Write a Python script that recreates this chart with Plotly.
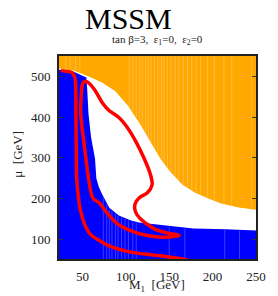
import numpy as np
import plotly.graph_objects as go

# ---- data ----
# orange excluded region: lower boundary (M1, mu)
orange_m1 = [23, 40, 56.6, 73, 88, 102.7, 117.4, 128.5, 139.5, 150.6, 165.3, 180, 195, 210, 230, 250]
orange_mu = [520, 515, 501, 485, 464, 428, 380, 339, 299, 267, 234, 214, 200, 188, 178, 172]

# blue excluded region: upper boundary (M1, mu)
blue_m1 = [23, 40, 51, 54.5, 55.5, 57, 60, 64.5, 66, 69, 73, 81, 92, 106, 115, 135, 152, 178, 215, 250]
blue_mu = [517, 512, 502, 498, 470, 408, 350, 298, 250, 228, 209, 177, 158, 146, 141, 136, 131, 126, 124, 121]

# red contour 1 (outer, open curve)
red1_m1 = [25, 33, 38, 41, 42, 42.5, 43, 43.4, 45.5, 47.8, 54, 60, 69, 80, 92, 106, 130, 150, 165, 172]
red1_mu = [515, 513, 510, 500, 488, 400, 300, 250, 200, 170, 129, 110, 97, 84, 75, 68, 61, 56, 51, 48]

# red contour 2 (inner, closed loop)
red2_m1 = [48, 48.5, 50, 53, 58.6, 65.5, 73.5, 81, 91.7, 102.7, 111.9, 121, 128.5, 130.3, 124.8, 115.5,
           110.5, 111, 115.5, 125, 134, 150, 161.6, 150, 135, 118, 104, 90, 78, 70, 62, 57, 54, 51, 48]
red2_mu = [408, 450, 481, 489, 482, 463, 434, 416, 400, 372, 339, 299, 258, 234, 214, 202,
           186, 168, 153, 136, 124, 114, 109, 105, 106, 112, 122, 138, 165, 188, 201, 250, 300, 350, 408]

# lighter scan stripes seen in the filled regions (M1 positions)
orange_stripes = [31, 36, 42, 47, 104, 108, 112, 116, 119, 123, 126, 129, 133, 137, 141, 144, 148,
                  152, 157, 161, 166, 171, 176, 181, 186, 194, 202, 213, 222, 245]
blue_stripes = [74, 78, 81, 84, 88, 91, 95, 99, 103, 108, 112, 150, 168, 214, 231]

x_ticks = [50, 100, 150, 200, 250]
y_ticks = [100, 200, 300, 400, 500]
x_range = [23, 250]
y_range = [51, 551]

ORANGE = "#FFA800"
ORANGE_LIGHT = "#FFBC40"
BLUE = "#0000FF"
BLUE_LIGHT = "#3C3CFF"
RED = "#FF0000"
SERIF = "Liberation Serif"

fig = go.Figure()

# orange polygon: top edge then lower boundary backwards
fig.add_trace(go.Scatter(
    x=[x_range[0]] + [x_range[1]] + orange_m1[::-1],
    y=[600, 600] + orange_mu[::-1],
    fill="toself", fillcolor=ORANGE, line=dict(width=0),
    mode="lines", hoverinfo="skip", showlegend=False))

# orange stripes
sx, sy = [], []
for m in orange_stripes:
    lo = float(np.interp(m, orange_m1, orange_mu)) + 2
    sx += [m, m, None]
    sy += [lo, 600, None]
fig.add_trace(go.Scatter(x=sx, y=sy, mode="lines", line=dict(color=ORANGE_LIGHT, width=1),
                         hoverinfo="skip", showlegend=False))

# blue polygon
fig.add_trace(go.Scatter(
    x=[blue_m1[0]] + blue_m1 + [blue_m1[-1]],
    y=[0] + blue_mu + [0],
    fill="toself", fillcolor=BLUE, line=dict(width=0), mode="lines",
    hoverinfo="skip", showlegend=False))

# blue stripes
sx, sy = [], []
for m in blue_stripes:
    hi = float(np.interp(m, blue_m1, blue_mu)) - 2
    sx += [m, m, None]
    sy += [0, hi, None]
fig.add_trace(go.Scatter(x=sx, y=sy, mode="lines", line=dict(color=BLUE_LIGHT, width=1),
                         hoverinfo="skip", showlegend=False))

for xs, ys in [(red1_m1, red1_mu), (red2_m1, red2_mu)]:
    fig.add_trace(go.Scatter(x=xs, y=ys, mode="lines",
                             line=dict(color=RED, width=3.5, shape="spline", smoothing=0.8),
                             hoverinfo="skip", showlegend=False))

axis_common = dict(showgrid=False, zeroline=False, showline=True, linecolor="#222", linewidth=2,
                   tickfont=dict(family=SERIF, size=13, color="#222"))

fig.update_xaxes(range=x_range, tickvals=x_ticks, ticks="outside", ticklen=4,
                 tickcolor="rgba(0,0,0,0)", mirror=True, **axis_common)
fig.update_yaxes(range=y_range, tickvals=y_ticks, ticks="inside", ticklen=4, tickcolor="#333",
                 mirror="ticks", ticklabelstandoff=4, **axis_common)

W, H = 278, 296
l, r, t, b = 59, 12, 56, 34
pw, ph = W - l - r, H - t - b


def ann(text, px, py, size, angle=0, color="#222"):
    return dict(text=text, xref="paper", yref="paper",
                x=(px - l) / pw, y=1 - (py - t) / ph,
                xanchor="center", yanchor="middle", showarrow=False, textangle=angle,
                font=dict(family=SERIF, size=size, color=color))


fig.update_layout(
    width=W, height=H,
    margin=dict(l=l, r=r, t=t, b=b),
    plot_bgcolor="white", paper_bgcolor="white",
    annotations=[
        ann("MSSM", 132, 18, 30, color="black"),
        ann("tan β=3,  ε<sub>1</sub>=0,  ε<sub>2</sub>=0", 162, 40, 11),
        ann("M<sub>1</sub>  [GeV]", 162, 289, 13),
        ann("μ  [GeV]", 15, 156, 13, angle=-90),
    ],
)

fig.write_html("out.html", config={"displayModeBar": False},
               post_script="document.body.style.margin='0';document.body.style.overflow='hidden';")
